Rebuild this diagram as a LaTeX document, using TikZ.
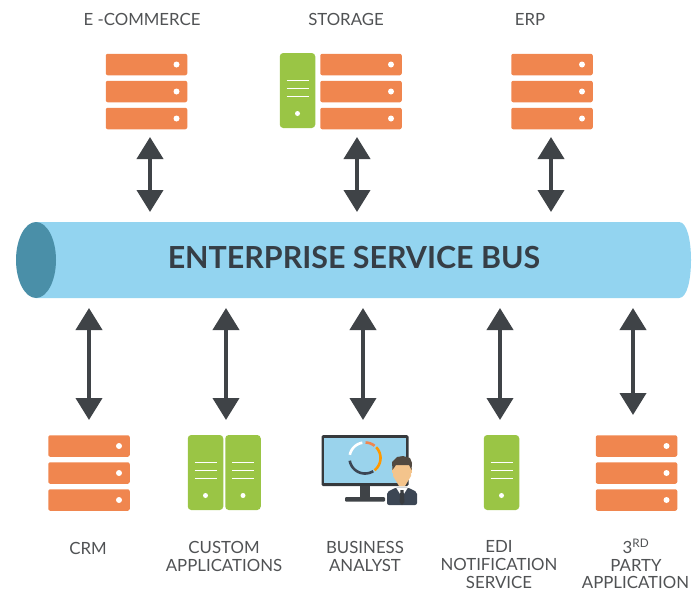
\documentclass[tikz,border=0pt]{standalone}
\usepackage{fontspec}
\setmainfont{Lato}
\usetikzlibrary{arrows.meta}
\definecolor{orng}{HTML}{F0864F}
\definecolor{grn}{HTML}{9AC545}
\definecolor{buscol}{HTML}{93D4F0}
\definecolor{buscap}{HTML}{4A8FA8}
\definecolor{dark}{HTML}{3F4347}
\definecolor{lbl}{HTML}{505254}
\definecolor{navy}{HTML}{3C4654}
\definecolor{ttl}{HTML}{363E46}
\definecolor{skin}{HTML}{F4C48C}
\definecolor{screen}{HTML}{9AD3EC}
\tikzset{
  x=1pt,y=-1pt,
  orangebar/.style={fill=orng,rounded corners=2pt,minimum width=81.5pt,minimum height=21.5pt,inner sep=0pt,outer sep=0pt},
  greenbox/.style={fill=grn,rounded corners=3.5pt,minimum width=35.5pt,minimum height=75pt,inner sep=0pt,outer sep=0pt},
  biarrow/.style={draw=dark,line width=4pt,{Triangle[width=26pt,length=22pt]}-{Triangle[width=26pt,length=22pt]}},
  lab/.style={text=lbl,font=\fontsize{16.8}{18}\selectfont,align=center,inner sep=0pt},
  pics/orangestack/.style={code={
    \node[orangebar] (-r1) at (0,-27) {};
    \node[orangebar] (-r2) at (0,0) {};
    \node[orangebar] (-r3) at (0,27) {};
    \foreach \yy in {-27,0,27} \fill[white] (30,\yy) circle (3pt);
  }},
  pics/greenserver/.style={code={
    \node[greenbox] (-box) at (0,0) {};
    \foreach \yy in {-10,-2,6} \draw[white,line width=1.8pt] (-11,\yy) -- (11,\yy);
    \fill[white] (0,23) circle (2.5pt);
  }},
}
\begin{document}
\begin{tikzpicture}
\useasboundingbox (0,0) rectangle (693,592);
% labels
\node[lab] (lecom) at (142,19.5) {E -COMMERCE};
\node[lab] (lstor) at (346,19.5) {STORAGE};
\node[lab] (lerp) at (530,19.5) {ERP};
\node[lab] (lcrm) at (88,548) {CRM};
\node[lab,anchor=north] (lcust) at (224,541) {CUSTOM\\APPLICATIONS};
\node[lab,anchor=north] (lbiz) at (365,541) {BUSINESS\\ANALYST};
\node[lab,anchor=north] (ledi) at (499,540) {EDI\\NOTIFICATION\\SERVICE};
\node[lab] (l3a) at (636,546) {3\textsuperscript{RD}};
\node[lab] (l3b) at (636,565) {PARTY};
\node[lab] (l3c) at (635.5,582.5) {APPLICATION};
% top icons
\pic (ecom) at (146.5,91.5) {orangestack};
\pic (stor) at (361,91.5) {orangestack};
\pic (stgr) at (297.5,90.5) {greenserver};
\pic (erp) at (552,91.5) {orangestack};
% bottom icons
\pic (crm) at (89,473) {orangestack};
\pic (cuA) at (205.5,472.5) {greenserver};
\pic (cuB) at (243,472.5) {greenserver};
\pic (edi) at (501.5,472.5) {greenserver};
\pic (trd) at (636.5,473) {orangestack};
% analyst
\fill[dark!85!black,rounded corners=1.5pt] (321.5,435) rectangle (408.5,486);
\fill[screen] (324,438) rectangle (406,483);
\fill[dark] (360,486) rectangle (370,497);
\fill[dark,rounded corners=1pt] (345,497) rectangle (385,501.5);
\foreach \aa/\bb/\cc in {100/168/white,52/88/orng,-52/44/orange!80!yellow,-170/-58/navy}
  \draw[\cc,line width=2.6pt] plot[domain=\aa:\bb,samples=20] ({365+15.5*cos(\x)},{458-15.5*sin(\x)});
% person
\fill[navy,rounded corners=2pt] (387,505) -- (387,492) -- (396,487.5) -- (408,487.5) -- (417,492) -- (417,505) -- cycle;
\fill[white] (396,487.5) -- (408,487.5) -- (402,497) -- cycle;
\fill[dark!90!black] (400.5,490) -- (403.5,490) -- (404.5,502) -- (402,505) -- (399.5,502) -- cycle;
\fill[skin] (392,468) rectangle (394,473);
\fill[skin] (410,468) rectangle (412,473);
\fill[skin] (393,462) -- (411,462) -- (411,476) -- (405,486) -- (399,486) -- (393,476) -- cycle;
\fill[dark!90!orange] (392.5,470) -- (392,462) -- (397,457) -- (403,456) -- (410,458) -- (412,463) -- (411.5,470) -- (409,465) -- (396,465) -- cycle;
% bus
\fill[buscol] (36,222) -- (679,222) .. controls (687,222) and (691,240) .. (691,260) .. controls (691,280) and (687,298) .. (679,298) -- (36,298) -- cycle;
\fill[buscap] (36,260) ellipse (20pt and 38pt);
\node[font=\fontsize{30.4}{32}\selectfont\bfseries,text=ttl,inner sep=0pt] (bus) at (354,258) {ENTERPRISE SERVICE BUS};
% connectors
\foreach \n/\xx/\ya/\yb in {t1/150/137/212,t2/357/137/212,t3/551/137/212,b1/89/308/420,b2/226/308/420,b3/363/308/420,b4/500/308/420,b5/633/308/415}{
  \coordinate (\n a) at (\xx,\ya);
  \coordinate (\n b) at (\xx,\yb);
  \draw[biarrow] (\n a) -- (\n b);
}
\end{tikzpicture}
\end{document}
